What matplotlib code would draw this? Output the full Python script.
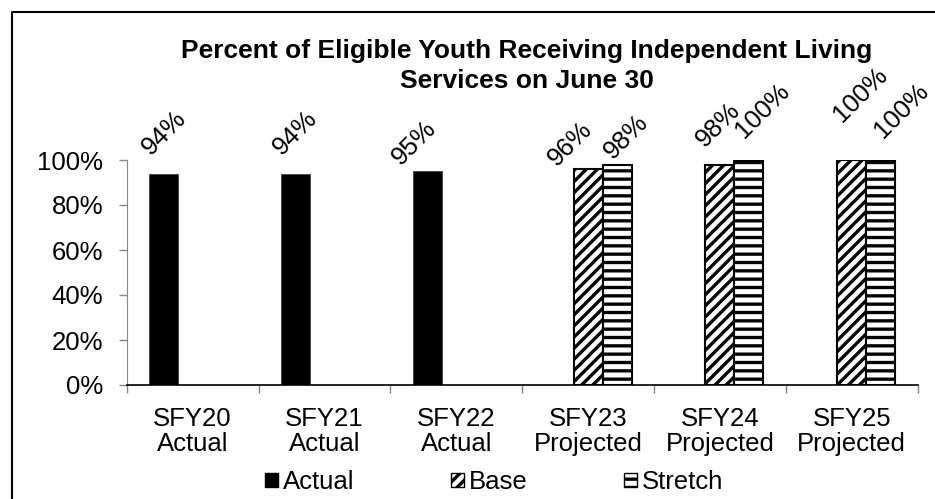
import matplotlib
matplotlib.use("Agg")
import matplotlib.pyplot as plt
from matplotlib.lines import Line2D
from matplotlib.patches import Patch
import numpy as np

plt.rcParams['font.family'] = ['Liberation Sans', 'DejaVu Sans']
plt.rcParams['hatch.linewidth'] = 2.4

# ---- data ----
categories = ["SFY20\nActual", "SFY21\nActual", "SFY22\nActual",
              "SFY23\nProjected", "SFY24\nProjected", "SFY25\nProjected"]
actual = [0.94, 0.94, 0.95, None, None, None]
base = [None, None, None, 0.96, 0.98, 1.00]
stretch = [None, None, None, 0.98, 1.00, 1.00]
series_names = ["Actual", "Base", "Stretch"]
yticks = [0, 0.2, 0.4, 0.6, 0.8, 1.0]
ytick_labels = ["0%", "20%", "40%", "60%", "80%", "100%"]
title = "Percent of Eligible Youth Receiving Independent Living\nServices on June 30"

# label offsets (pixels) of data labels, as in the original's manual placement
actual_off = [(0, 41), (0, 41), (-13, 28), None, None, None]
base_off = [None, None, None, (-18, 25), (-2, 40), (9, 65)]
stretch_off = [None, None, None, (9, 28), (13, 49), (21, 49)]

W, H = 935, 499
fig = plt.figure(figsize=(W / 100, H / 100), dpi=100)
ax = fig.add_axes([126.7 / W, 1 - 385 / H, (917.7 - 126.7) / W, (385 - 160) / H])

bw = 0.22
x = np.arange(len(categories))
styles = [
    dict(color="black", edgecolor="#404040", linewidth=0.6, hatch=None),
    dict(color="white", edgecolor="black", linewidth=1.5, hatch="///"),
    dict(color="white", edgecolor="black", linewidth=1.5, hatch="--"),
]
offsets = [-bw, 0, bw]
all_series = [actual, base, stretch]
all_offs = [actual_off, base_off, stretch_off]
fs = 18.5
for s, (vals, st, off, loffs) in enumerate(zip(all_series, styles, offsets, all_offs)):
    xs = [xi + off for xi, v in zip(x, vals) if v is not None]
    vs = [v for v in vals if v is not None]
    ax.bar(xs, vs, width=bw, facecolor=st["color"], edgecolor=st["edgecolor"],
           linewidth=st["linewidth"], hatch=st["hatch"], zorder=2)
    for xi, v, lo in zip(x, vals, loffs):
        if v is None:
            continue
        ax.annotate(f"{round(v * 100):d}%", xy=(xi + off, v), xytext=lo,
                    textcoords="offset pixels", ha="center", va="center",
                    rotation=45, fontsize=fs, annotation_clip=False)

ax.set_xlim(-0.5, len(categories) - 0.5)
ax.set_ylim(0, 1.0)
ax.set_yticks(yticks)
ax.set_yticklabels(ytick_labels, fontsize=fs)
ax.tick_params(axis="y", direction="out", length=6, width=1, color="#868686", pad=11)

ax.set_xticks(x)
ax.set_xticklabels(categories, fontsize=fs, linespacing=1.05)
ax.set_xticks(np.arange(-0.5, len(categories), 1.0), minor=True)
ax.tick_params(axis="x", which="major", length=0, pad=16)
ax.tick_params(axis="x", which="minor", length=6, width=1, color="#868686")

for side in ["top", "right"]:
    ax.spines[side].set_visible(False)
ax.spines["left"].set_color("#868686")
ax.spines["bottom"].set_color("black")
ax.spines["bottom"].set_linewidth(1.2)

fig.text(526.7 / W, 1 - 39 / H, title, ha="center", va="top", fontsize=19,
         fontweight="bold", linespacing=1.3)

handles = [Patch(facecolor=st["color"], edgecolor="black", linewidth=1.0, hatch=st["hatch"])
           for st in styles]
fig.legend(handles, series_names, loc="center", bbox_to_anchor=(494 / W, 1 - 482 / H),
           ncol=3, frameon=False, fontsize=fs, handlelength=0.5, handleheight=0.5,
           handletextpad=0.2, columnspacing=3.75, borderpad=0)

# chart frame (left and top visible)
fig.add_artist(Line2D([12 / W, 12 / W, 1], [0, 1 - 12 / H, 1 - 12 / H],
                      transform=fig.transFigure, color="black", linewidth=1.5))

fig.savefig("out.png", dpi=100)
